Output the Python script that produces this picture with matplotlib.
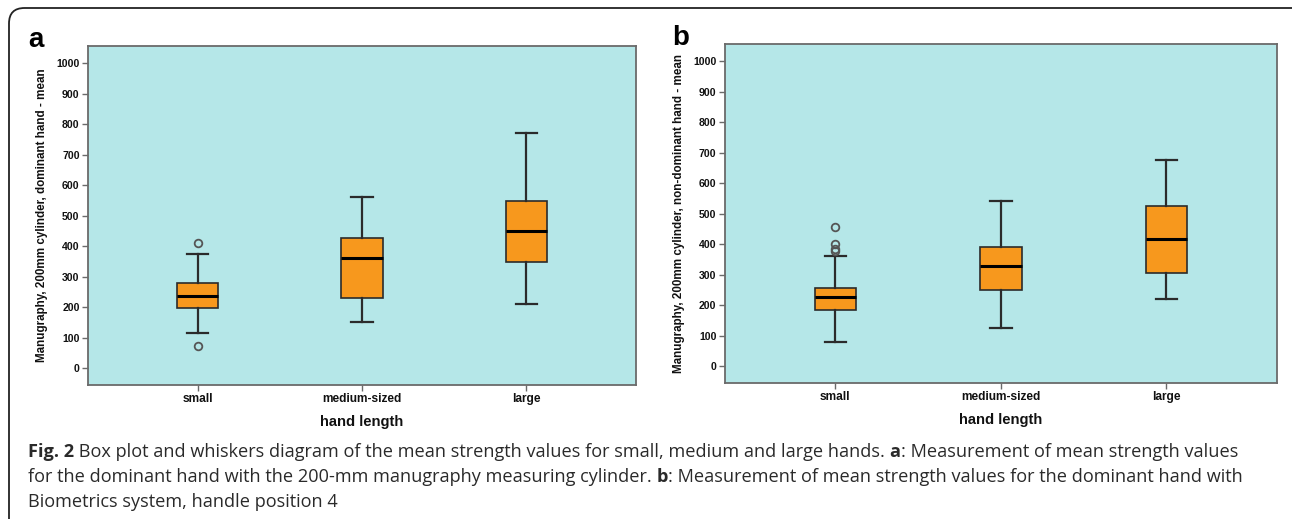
import matplotlib
matplotlib.use("Agg")
import matplotlib.pyplot as plt
from matplotlib.patches import FancyBboxPatch

# data
categories = ["small", "medium-sized", "large"]

# panel a: dominant hand
a_whislo = [114, 152, 210]
a_q1 = [198, 231, 349]
a_med = [238, 361, 451]
a_q3 = [278, 426, 547]
a_whishi = [375, 561, 772]
a_fliers = [[412, 74], [], []]

# panel b: non-dominant hand
b_whislo = [78, 126, 221]
b_q1 = [186, 249, 306]
b_med = [226, 330, 419]
b_q3 = [258, 392, 525]
b_whishi = [361, 543, 678]
b_fliers = [[458, 402, 383, 377], [], []]

yticks = list(range(0, 1001, 100))

bg = "#b5e7e8"
orange = "#f7981d"
dark = "#2b2b2b"
spine = "#6a6a6a"

arial = ["Liberation Sans", "DejaVu Sans"]


def make_stats(lo, q1, med, q3, hi, fl):
    stats = []
    for i in range(len(lo)):
        stats.append(dict(whislo=lo[i], q1=q1[i], med=med[i], q3=q3[i],
                          whishi=hi[i], fliers=fl[i], label=categories[i]))
    return stats


def draw_panel(ax, stats, ylabel):
    ax.set_facecolor(bg)
    ax.bxp(stats, positions=[1, 2, 3], widths=0.25, patch_artist=True,
           capwidths=0.13,
           boxprops=dict(facecolor=orange, edgecolor=dark, linewidth=1.2),
           medianprops=dict(color="black", linewidth=2.2),
           whiskerprops=dict(color=dark, linewidth=1.6),
           capprops=dict(color=dark, linewidth=1.6),
           flierprops=dict(marker="o", markerfacecolor="none",
                           markeredgecolor="#555555", markersize=5.5,
                           markeredgewidth=1.3))
    ax.set_xlim(1 / 3, 3 + 2 / 3)
    ax.set_ylim(-55, 1057)
    ax.set_yticks(yticks)
    ax.set_yticklabels([str(t) for t in yticks], fontsize=7.6,
                       fontweight="bold", family=arial, color="#111111")
    ax.set_xticks([1, 2, 3])
    ax.set_xticklabels(categories, fontsize=8.6, fontweight="bold",
                       family=arial, color="#111111")
    ax.tick_params(axis="both", length=4, width=1, color=spine, pad=2)
    for s in ax.spines.values():
        s.set_color(spine)
        s.set_linewidth(1.3)
    ax.set_xlabel("hand length", fontsize=10.6, fontweight="bold",
                  family=arial, color="#111111", labelpad=7)
    ax.set_ylabel(ylabel, fontsize=8.4, fontweight="bold", family=arial,
                  color="#111111", labelpad=6)


fig = plt.figure(figsize=(12.92, 5.19), dpi=100)

ax_a = fig.add_axes([0.0681, 0.2582, 0.4242, 0.6532])
ax_b = fig.add_axes([0.5611, 0.2620, 0.4272, 0.6532])

draw_panel(ax_a, make_stats(a_whislo, a_q1, a_med, a_q3, a_whishi, a_fliers),
           "Manugraphy, 200mm cylinder, dominant hand - mean")
draw_panel(ax_b, make_stats(b_whislo, b_q1, b_med, b_q3, b_whishi, b_fliers),
           "Manugraphy, 200mm cylinder, non-dominant hand - mean")

fig.text(0.0217, 0.923, "a", fontsize=20, fontweight="bold", family=arial,
         va="center")
fig.text(0.520, 0.927, "b", fontsize=20, fontweight="bold", family=arial,
         va="center")

# rounded frame around the figure
frame = FancyBboxPatch((9 / 1292, -20 / 519), 1.05, (511 + 20) / 519,
                       boxstyle="round,pad=0,rounding_size=0.012",
                       transform=fig.transFigure, fill=False,
                       edgecolor="#222222", linewidth=1.3, clip_on=False,
                       mutation_aspect=1292 / 519)
fig.patches.append(frame)

# caption
cap_font = ["Open Sans", "DejaVu Sans"]
cap_color = "#2a2a2a"
lines = [
    ("Fig. 2", " Box plot and whiskers diagram of the mean strength values for small, medium and large hands. ",
     "a", ": Measurement of mean strength values"),
    (None, "for the dominant hand with the 200-mm manugraphy measuring cylinder. ",
     "b", ": Measurement of mean strength values for the dominant hand with"),
    (None, "Biometrics system, handle position 4", None, None),
]
ys = [452, 477, 502]
renderer = fig.canvas.get_renderer()
for (b1, t1, b2, t2), yp in zip(lines, ys):
    x = 28 / 1292
    y = 1 - yp / 519
    for txt, bold in ((b1, True), (t1, False), (b2, True), (t2, False)):
        if not txt:
            continue
        t = fig.text(x, y, txt, fontsize=13.1, family=cap_font,
                     fontweight="bold" if bold else "normal",
                     color=cap_color, va="center")
        bb = t.get_window_extent(renderer=renderer)
        x += bb.width / fig.bbox.width

fig.savefig("out.png", dpi=100)
